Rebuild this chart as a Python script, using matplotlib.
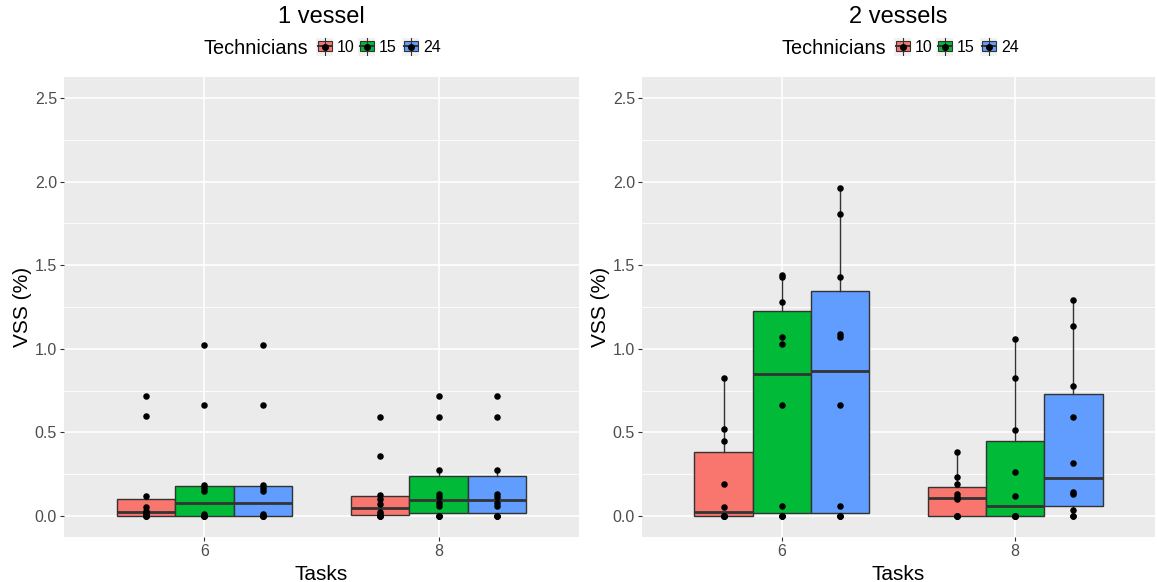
import matplotlib
matplotlib.use("Agg")
import matplotlib.pyplot as plt
from matplotlib.patches import Rectangle
from matplotlib.lines import Line2D
from matplotlib.ticker import MultipleLocator

plt.rcParams['font.family'] = ['Liberation Sans', 'DejaVu Sans']

# ---- data -------------------------------------------------------------
tasks = ["6", "8"]
technicians = ["10", "15", "24"]
colors = ["#F8766D", "#00BA38", "#619CFF"]
panel_titles = ["1 vessel", "2 vessels"]

# VSS (%) observations, one list per technician level (10, 15, 24)
one_vessel_tasks6 = [
    [0, 0, 0, 0.01, 0.02, 0.03, 0.056, 0.118, 0.60, 0.72],
    [0, 0, 0, 0, 0.01, 0.148, 0.17, 0.185, 0.666, 1.025],
    [0, 0, 0, 0, 0.01, 0.148, 0.17, 0.185, 0.666, 1.025],
]
one_vessel_tasks8 = [
    [0, 0, 0.003, 0.012, 0.026, 0.072, 0.10, 0.128, 0.359, 0.592],
    [0, 0, 0, 0.062, 0.078, 0.114, 0.13, 0.277, 0.592, 0.718],
    [0, 0, 0, 0.062, 0.078, 0.114, 0.13, 0.277, 0.592, 0.718],
]
two_vessels_tasks6 = [
    [0, 0, 0, 0, 0, 0.052, 0.19, 0.447, 0.518, 0.823],
    [0, 0, 0, 0.062, 0.666, 1.031, 1.072, 1.278, 1.43, 1.44],
    [0, 0, 0, 0.062, 0.666, 1.072, 1.089, 1.429, 1.808, 1.96],
]
two_vessels_tasks8 = [
    [0, 0, 0, 0, 0.10, 0.116, 0.13, 0.191, 0.235, 0.381],
    [0, 0, 0, 0, 0, 0.118, 0.261, 0.514, 0.823, 1.061],
    [0, 0, 0.038, 0.132, 0.142, 0.319, 0.594, 0.776, 1.136, 1.292],
]

panels = [
    [one_vessel_tasks6, one_vessel_tasks8],
    [two_vessels_tasks6, two_vessels_tasks8],
]

# ---- figure -----------------------------------------------------------
W, H = 1157, 582
fig = plt.figure(figsize=(W / 100, H / 100), dpi=100)
fig.patch.set_facecolor("white")


def fx(x):
    return x / W


def fy(y):
    return 1 - y / H


panel_boxes = [(64, 579), (642, 1155)]
top, bottom = 77, 537
dodge = [-0.25, 0.0, 0.25]
bw = 0.25
edge = "#333333"

for p, (x0, x1) in enumerate(panel_boxes):
    ax = fig.add_axes([fx(x0), fy(bottom), (x1 - x0) / W, (bottom - top) / H])
    ax.set_facecolor("#EBEBEB")
    for s in ax.spines.values():
        s.set_visible(False)

    for ti, groups in enumerate(panels[p]):
        for k, vals in enumerate(groups):
            pos = ti + 1 + dodge[k]
            ax.boxplot(
                vals, positions=[pos], widths=bw, whis=1.5,
                patch_artist=True, showfliers=False, showcaps=False,
                manage_ticks=False,
                boxprops=dict(facecolor=colors[k], edgecolor=edge, linewidth=1.0),
                medianprops=dict(color=edge, linewidth=2.0),
                whiskerprops=dict(color=edge, linewidth=1.0),
                zorder=3,
            )
            ax.scatter([pos] * len(vals), vals, s=22, color="black",
                       zorder=4, linewidths=0)

    ax.set_xlim(0.4, 2.6)
    ax.set_ylim(-0.125, 2.625)
    ax.set_xticks([1, 2])
    ax.set_xticklabels(tasks)
    ax.set_yticks([0, 0.5, 1.0, 1.5, 2.0, 2.5])
    ax.set_yticklabels(["0.0", "0.5", "1.0", "1.5", "2.0", "2.5"])
    ax.yaxis.set_minor_locator(MultipleLocator(0.25))
    ax.tick_params(axis="both", which="major", length=3, width=0.8,
                   color="#333333", labelcolor="#4D4D4D", labelsize=11.5, pad=2)
    ax.tick_params(axis="y", which="minor", length=0)
    ax.grid(True, which="major", color="white", linewidth=1.2, zorder=0)
    ax.grid(True, which="minor", axis="y", color="white", linewidth=0.6, zorder=0)
    ax.set_axisbelow(True)
    ax.set_xlabel("Tasks", fontsize=15, labelpad=4)
    ax.set_ylabel("VSS (%)", fontsize=15, labelpad=2)

    # panel title
    cx = (x0 + x1) / 2
    fig.text(fx(cx), fy(17), panel_titles[p], fontsize=17,
             ha="center", va="center", color="black")

    # legend row
    off = x0 - 64
    fig.text(fx(203 + off), fy(48), "Technicians", fontsize=14.3,
             ha="left", va="center")
    key_x = [316, 358, 402]
    for k, lab in enumerate(technicians):
        kx = key_x[k] + off
        fig.add_artist(Rectangle((fx(kx), fy(56)), 17 / W, 18 / H,
                                 transform=fig.transFigure,
                                 facecolor="#F2F2F2", edgecolor="none"))
        fig.add_artist(Line2D([fx(kx + 8.5)] * 2, [fy(38), fy(55)],
                              transform=fig.transFigure, color=edge, lw=0.8))
        fig.add_artist(Rectangle((fx(kx + 1.5), fy(51)), 14 / W, 10 / H,
                                 transform=fig.transFigure,
                                 facecolor=colors[k], edgecolor=edge, lw=0.8))
        fig.add_artist(Line2D([fx(kx + 1.5), fx(kx + 15.5)], [fy(46)] * 2,
                              transform=fig.transFigure, color=edge, lw=1.4))
        fig.add_artist(Line2D([fx(kx + 8.5)], [fy(46.5)], marker="o",
                              markersize=4, color="black", lw=0,
                              transform=fig.transFigure))
        fig.text(fx(kx + 21), fy(48), lab, fontsize=11.5,
                 ha="left", va="center")

fig.savefig("out.png", dpi=100)
